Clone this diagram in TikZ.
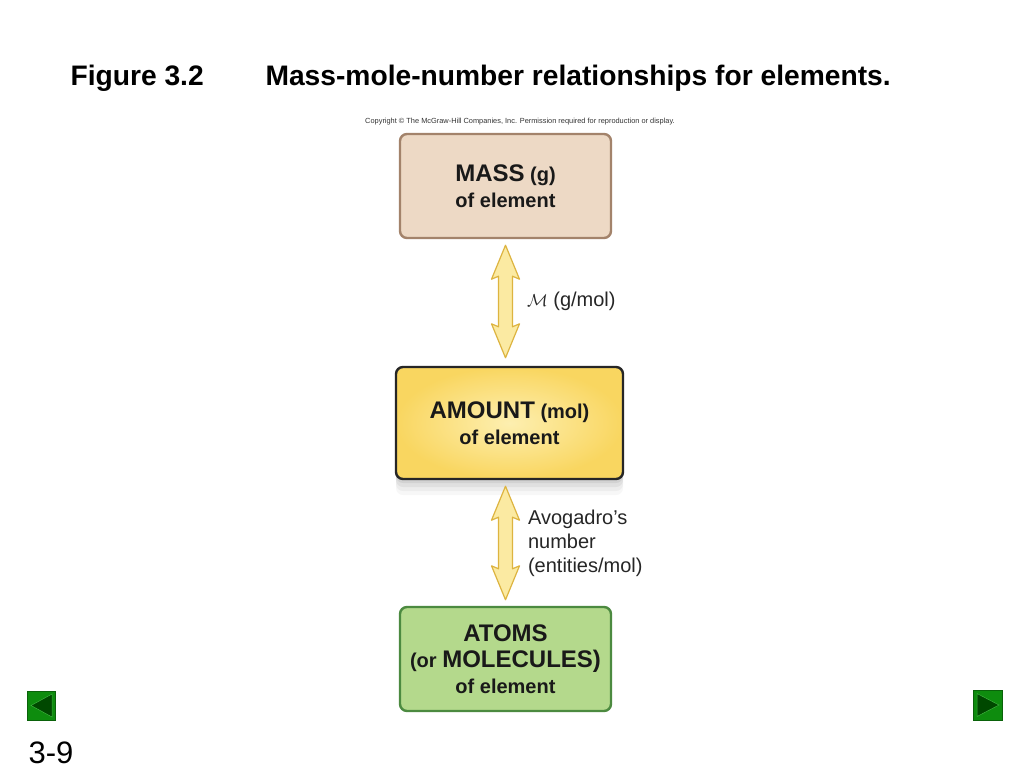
\documentclass[tikz,border=0pt]{standalone}
\usepackage{fontspec}
\setmainfont{Liberation Sans}
\usetikzlibrary{calc,shadows}

\definecolor{masstan}{HTML}{EDD9C5}
\definecolor{massbrown}{HTML}{A3836B}
\definecolor{amtyellow}{HTML}{F9D660}
\definecolor{amtlight}{HTML}{FDEFB0}
\definecolor{atomgreen}{HTML}{B4D98C}
\definecolor{atomdark}{HTML}{4C8A40}
\definecolor{arrfill}{HTML}{FBEAA2}
\definecolor{arrdraw}{HTML}{DDB440}
\definecolor{navgreen}{HTML}{0E8C0E}
\definecolor{navdark}{HTML}{004800}
\definecolor{navline}{HTML}{3DB43D}

\newcommand{\setfs}[1]{\fontsize{#1}{#1}\selectfont}

\tikzset{
  stepbox/.style={rounded corners=7pt, line width=2.4pt, align=center,
    font=\bfseries\fontsize{20}{26}\selectfont, text=black!90},
  label/.style={anchor=west, align=left, font=\fontsize{20}{24}\selectfont, text=black!85},
  dblarr/.style={fill=arrfill, draw=arrdraw, line width=1.2pt, line join=round},
  softshadow/.style={
    general shadow={fill=black, opacity=.03, shadow yshift=-16pt, rounded corners=14pt},
    general shadow={fill=black, opacity=.04, shadow yshift=-12pt, rounded corners=12pt},
    general shadow={fill=black, opacity=.05, shadow yshift=-8pt, rounded corners=10pt},
    general shadow={fill=black, opacity=.06, shadow yshift=-4pt}},
  navbox/.style={fill=navgreen, draw=navgreen!70!black, line width=.6pt},
  navtri/.style={fill=navdark, draw=navline, line width=.5pt}
}

% ket feju nyil ket csomopont kozott
\newcommand{\dblarrow}[2]{%
  \draw[dblarr] let \p1=(#1), \p2=(#2) in
    (\x1,\y1) -- (\x1+14pt,\y1-34pt) -- (\x1+7pt,\y1-31pt) -- (\x1+7pt,\y2+31pt)
    -- (\x1+14pt,\y2+34pt) -- (\x1,\y2) -- (\x1-14pt,\y2+34pt) -- (\x1-7pt,\y2+31pt)
    -- (\x1-7pt,\y1-31pt) -- (\x1-14pt,\y1-34pt) -- cycle;
}

\begin{document}
\begin{tikzpicture}[x=1pt,y=-1pt]
  \useasboundingbox[fill=white] (0,0) rectangle (1024,768);

  % cim
  \node[anchor=base west, font=\bfseries\setfs{28.2}] (fig) at (67,85) {Figure 3.2};
  \node[anchor=base west, font=\bfseries\setfs{28.2}] (title) at (262,85) {Mass-mole-number relationships for elements.};
  \node[font=\setfs{7.4}, text=black!80] (copy) at (520,122)
    {Copyright \textcopyright{} The McGraw-Hill Companies, Inc. Permission required for reproduction or display.};

  % dobozok
  \node[stepbox, fill=masstan, draw=massbrown, minimum width=211pt, minimum height=104pt] (mass) at (505.5,186)
    {{\fontsize{24}{26}\selectfont MASS} (g)\\of element};
  \node[stepbox, softshadow, draw=black!85, shade, inner color=amtlight, outer color=amtyellow,
    minimum width=227pt, minimum height=112pt] (amount) at (509.5,423)
    {{\fontsize{24}{26}\selectfont AMOUNT} (mol)\\of element};
  \node[stepbox, fill=atomgreen, draw=atomdark, minimum width=211pt, minimum height=104pt] (atoms) at (505.5,659)
    {{\fontsize{24}{26}\selectfont ATOMS}\\{(or \fontsize{24}{26}\selectfont MOLECULES)}\\of element};

  % nyilak
  \coordinate (t1) at ($(mass.south)+(0,6)$);
  \coordinate (b1) at ($(amount.north)+(-4,-8)$);
  \coordinate (t2) at ($(amount.south)+(-4,6)$);
  \coordinate (b2) at ($(atoms.north)+(0,-6)$);
  \dblarrow{t1}{b1}
  \dblarrow{t2}{b2}

  \node[label] (molar) at ($(t1)!.5!(b1)+(18,0)$) {{\setfs{16}$\mathcal{M}$} (g/mol)};
  \node[label] (avog) at ($(t2)!.5!(b2)+(19,0)$) {Avogadro’s\\number\\(entities/mol)};

  % navigacio
  \fill[navbox] (27,691) rectangle (55,720);
  \draw[navtri] (31,705.5) -- (52,694) -- (52,717) -- cycle;
  \fill[navbox] (973,690) rectangle (1002,720);
  \draw[navtri] (999,705) -- (977,693.5) -- (977,716.5) -- cycle;

  \node[anchor=base west, font=\setfs{31}] (page) at (25,763) {3-9};
\end{tikzpicture}
\end{document}
